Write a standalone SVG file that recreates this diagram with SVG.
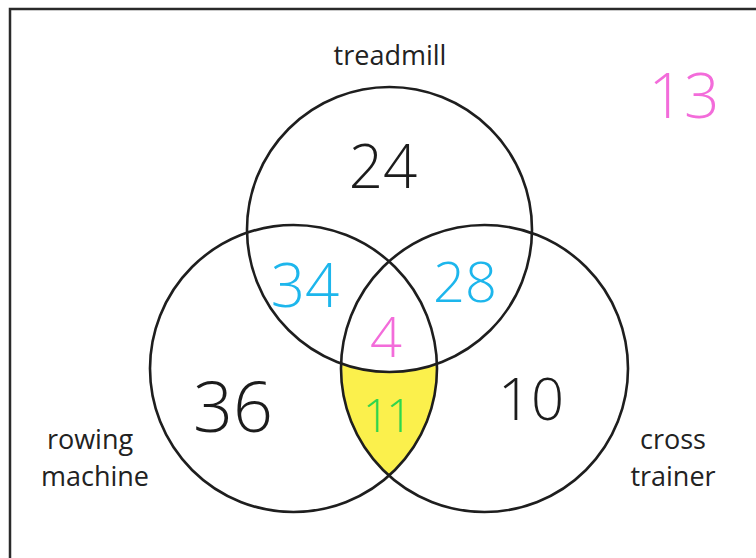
<svg xmlns="http://www.w3.org/2000/svg" width="756" height="558" viewBox="0 0 756 558">
<style>
.frame{fill:none;stroke:#2a2a2a;stroke-width:2.5}
.circ{fill:none;stroke:#1e1e1e;stroke-width:2.6}
.lbl{font-family:"Open Sans","Liberation Sans",sans-serif;font-size:27px;fill:#222;text-anchor:middle}
.num{font-family:"Open Sans","Liberation Sans",sans-serif;font-weight:300;text-anchor:middle}
.blk{fill:#1c1c1c}
.cyan{fill:#1db6ec}
.pink{fill:#f36cda}
.green{fill:#2fd64c}
</style>
<rect width="756" height="558" fill="#ffffff"/>
<rect class="frame" x="10" y="9" width="770" height="580"/>
<path id="region-yellow" d="M342.1 363.9 A142.5 142.5 0 0 0 436.9 363.9 A143.5 143.5 0 0 1 389 475.6 A143.5 143.5 0 0 1 342.1 363.9 Z" fill="#fbf04c"/>
<g id="connectors"></g>
<g id="treadmill">
<circle class="circ" cx="389.5" cy="229.5" r="142.5"/>
<text class="lbl" x="390" y="65">treadmill</text>
</g>
<g id="rowing-machine">
<circle class="circ" cx="293.5" cy="368.5" r="143.5"/>
<text class="lbl" x="90" y="449">rowing</text>
<text class="lbl" x="95" y="486">machine</text>
</g>
<g id="cross-trainer">
<circle class="circ" cx="484.5" cy="368.5" r="143.5"/>
<text class="lbl" x="673" y="449">cross</text>
<text class="lbl" x="673" y="486">trainer</text>
</g>
<g id="values">
<text class="num blk" x="383" y="188" font-size="60">24</text>
<text class="num cyan" x="305" y="307" font-size="60">34</text>
<text class="num cyan" x="465" y="302" font-size="56">28</text>
<text class="num pink" x="386" y="357" font-size="56">4</text>
<text class="num blk" x="233" y="432" font-size="70">36</text>
<text class="num blk" x="531" y="420" font-size="58">10</text>
<text class="num green" x="386" y="432" font-size="46" letter-spacing="-3">11</text>
<text class="num pink" x="684" y="118" font-size="62">13</text>
</g>
</svg>
